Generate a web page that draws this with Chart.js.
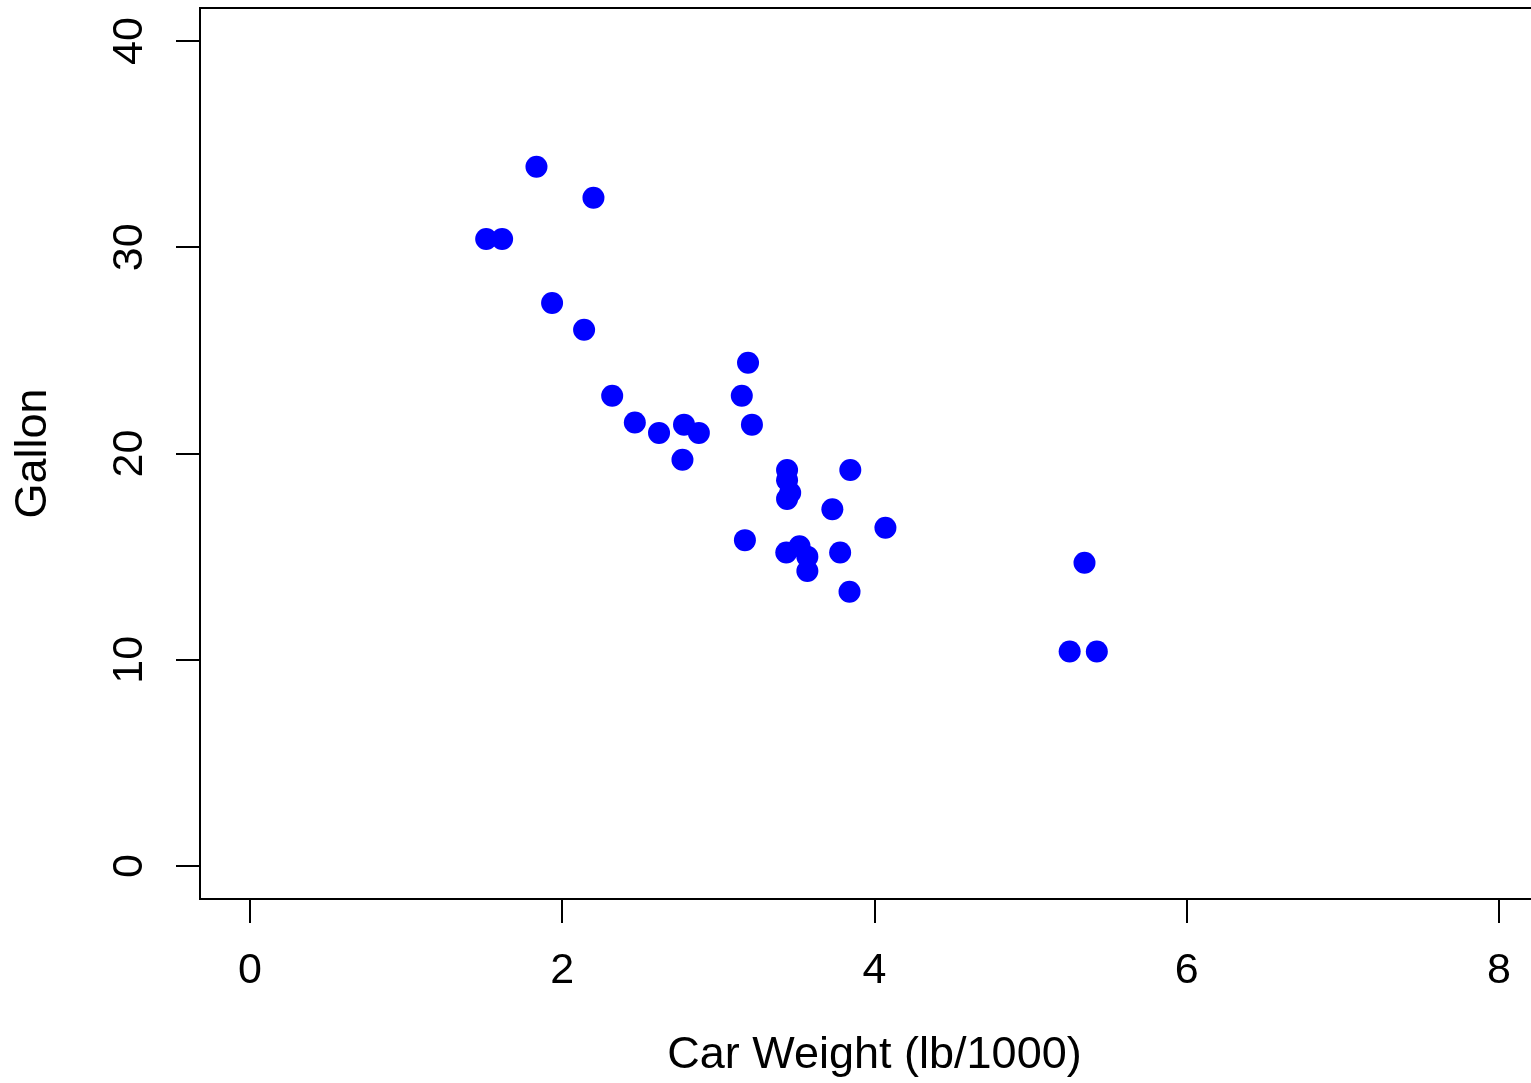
<!DOCTYPE html>
<html>
<head>
<meta charset="utf-8">
<script src="https://cdn.jsdelivr.net/npm/chart.js@4"></script>
<style>
  html, body { margin: 0; padding: 0; background: #fff; overflow: hidden; }
  #wrap { width: 1560px; height: 1083px; }
</style>
</head>
<body>
<div id="wrap"><canvas id="myChart"></canvas></div>
<script>
"use strict";

// car weight (lb/1000) and miles per gallon
const weights = [2.620, 2.875, 2.320, 3.215, 3.440, 3.460, 3.570, 3.190, 3.150, 3.440, 3.440,
  4.070, 3.730, 3.780, 5.250, 5.424, 5.345, 2.200, 1.615, 1.835, 2.465, 3.520,
  3.435, 3.840, 3.845, 1.935, 2.140, 1.513, 3.170, 2.770, 3.570, 2.780];
const gallons = [21.0, 21.0, 22.8, 21.4, 18.7, 18.1, 14.3, 24.4, 22.8, 19.2, 17.8,
  16.4, 17.3, 15.2, 10.4, 10.4, 14.7, 32.4, 30.4, 33.9, 21.5, 15.5,
  15.2, 13.3, 19.2, 27.3, 26.0, 30.4, 15.8, 19.7, 15.0, 21.4];
const xTicks = [0, 2, 4, 6, 8];
const yTicks = [0, 10, 20, 30, 40];

const ctx = document.getElementById('myChart');
const tickFont = { family: "'Liberation Sans', Arial, sans-serif", size: 43 };
const titleFont = { family: "'Liberation Sans', Arial, sans-serif", size: 45 };

// top side of the plot box (left and bottom come from the axis borders)
const boxPlugin = {
  id: 'box',
  afterDraw(chart) {
    const { ctx, chartArea: a } = chart;
    ctx.save();
    ctx.strokeStyle = '#000';
    ctx.lineWidth = 2;
    ctx.beginPath();
    ctx.moveTo(a.left - 1, a.top);
    ctx.lineTo(a.right, a.top);
    ctx.stroke();
    ctx.restore();
  }
};

new Chart(ctx, {
  type: 'scatter',
  data: {
    datasets: [{
      data: weights.map((w, i) => ({ x: w, y: gallons[i] })),
      backgroundColor: '#0000ff',
      borderWidth: 0,
      pointRadius: 11,
      pointHoverRadius: 11
    }]
  },
  options: {
    responsive: true,
    maintainAspectRatio: false,
    animation: false,
    events: [],
    layout: { autoPadding: false, padding: { top: 8, right: 11, left: 0, bottom: 0 } },
    plugins: { legend: { display: false }, tooltip: { enabled: false } },
    scales: {
      x: {
        type: 'linear',
        min: -0.32,
        max: 8.32,
        afterBuildTicks: (scale) => { scale.ticks = xTicks.map(v => ({ value: v })); },
        afterFit: (scale) => { scale.height = 184; scale.paddingLeft = 0; scale.paddingRight = 0; },
        grid: { drawOnChartArea: false, drawTicks: true, tickLength: 24, color: '#000', lineWidth: 2 },
        border: { display: true, color: '#000', width: 2 },
        ticks: { color: '#000', font: tickFont, padding: 22, maxRotation: 0, autoSkip: false },
        title: { display: true, text: 'Car Weight (lb/1000)', color: '#000', font: titleFont, padding: { top: 0, bottom: 0 } }
      },
      y: {
        type: 'linear',
        min: -1.6,
        max: 41.6,
        afterBuildTicks: (scale) => { scale.ticks = yTicks.map(v => ({ value: v })); },
        afterFit: (scale) => { scale.width = 200; scale.paddingTop = 0; scale.paddingBottom = 0; },
        grid: { drawOnChartArea: false, drawTicks: true, tickLength: 24, color: '#000', lineWidth: 2 },
        border: { display: true, color: '#000', width: 2 },
        ticks: { color: '#000', font: tickFont, padding: 22, minRotation: 90, maxRotation: 90, crossAlign: 'center', autoSkip: false },
        title: { display: true, text: 'Gallon', color: '#000', font: titleFont, padding: { top: 7, bottom: 0 } }
      }
    }
  },
  plugins: [boxPlugin]
});
</script>
</body>
</html>
